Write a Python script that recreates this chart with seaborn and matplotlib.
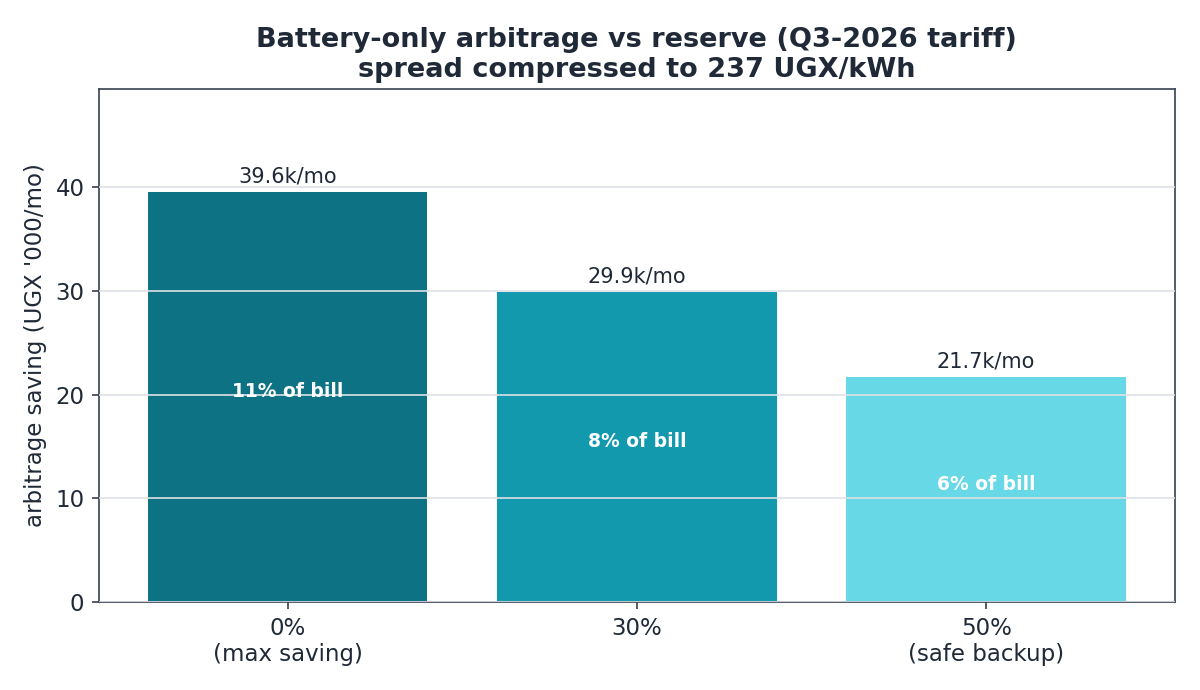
import numpy as np
import pandas as pd
import matplotlib
matplotlib.use('Agg')
import matplotlib.pyplot as plt
import seaborn as sns

### chart data
reserve = ['0%\n(max saving)', '30%', '50%\n(safe backup)']
saving = [39.6, 29.9, 21.7]
share_of_bill = ['11% of bill', '8% of bill', '6% of bill']
cols = ['#0e7285', '#1299ae', '#67d8e6']

df = pd.DataFrame({'reserve': reserve, 'saving': saving})

txt = '#1f2937'
edge = '#374151'

sns.set_style('white')
plt.rcParams['font.family'] = ['DejaVu Sans']

fig = plt.figure(figsize=(8, 4.6), dpi=150)
ax = fig.add_axes([0.0825, 0.1275, 0.8965, 0.7435])

sns.barplot(data=df, x='reserve', y='saving', hue='reserve', palette=cols,
            width=0.8, legend=False, ax=ax, saturation=1, linewidth=0)

ax.set_xlim(-0.54, 2.54)
ax.set_ylim(0, max(saving) * 1.25)
ax.set_yticks([0, 10, 20, 30, 40])

# grid drawn over the bars
ax.set_axisbelow(False)
ax.yaxis.grid(True, color='#dde1e6', lw=0.8)
ax.xaxis.grid(False)

for sp in ax.spines.values():
    sp.set_color(edge)
    sp.set_linewidth(0.8)

ax.tick_params(axis='both', colors=edge, labelcolor=txt, labelsize=11,
               length=3.5, width=0.8, bottom=True, left=True)

for i, v in enumerate(saving):
    ax.text(i, v + 0.5, f'{v}k/mo', ha='center', va='bottom', fontsize=10, color=txt)
    ax.text(i, v / 2 + 0.5, share_of_bill[i], ha='center', va='center',
            fontsize=9, color='white', fontweight='bold')

ax.set_xlabel('')
ax.set_ylabel("arbitrage saving (UGX '000/mo)", fontsize=11, color=txt)
ax.set_title('Battery-only arbitrage vs reserve (Q3-2026 tariff)\nspread compressed to 237 UGX/kWh',
             fontsize=13, fontweight='bold', color=txt, pad=6)

plt.savefig('out.png', dpi=150)
